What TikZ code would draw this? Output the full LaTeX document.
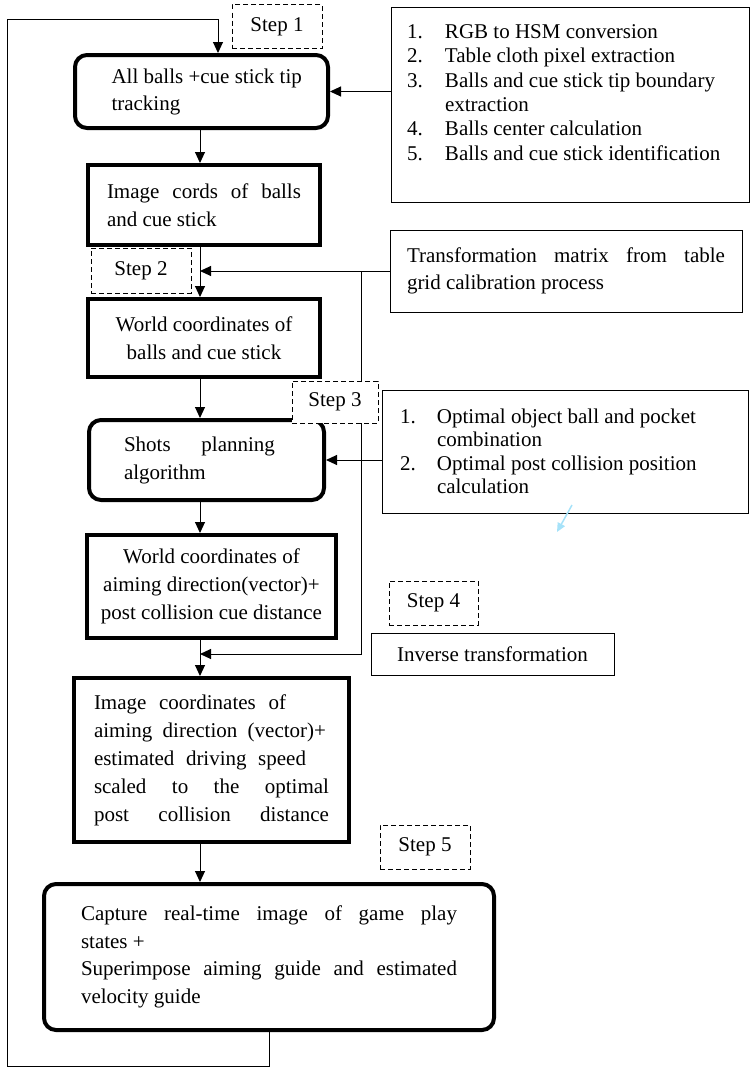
\documentclass[tikz,border=0pt]{standalone}
\usepackage{fontspec}
\setmainfont{Liberation Serif}
\usetikzlibrary{arrows.meta}

\newcommand{\jline}[2]{{\spaceskip=0pt\xspaceskip=0pt\makebox[#1][s]{#2}}}

\begin{document}
\begin{tikzpicture}[x=1pt,y=-1pt,>={Triangle[length=11pt,width=10pt]},line width=1pt]
 \useasboundingbox (0,0) rectangle (750,1068);
 \tikzstyle{every node} = [font=\fontsize{21}{28}\selectfont, inner sep=0pt]
 \tikzstyle{flowbox} = [draw, line width=4pt]
 \tikzstyle{roundbox} = [flowbox, rounded corners=12pt]
 \tikzstyle{notebox} = [draw, line width=1pt]
 \tikzstyle{stepbox} = [draw, line width=1pt, dash pattern=on 5pt off 3pt, fill=white,
   minimum width=90pt, minimum height=44pt]
 % main chain
 \node[roundbox, minimum width=253pt, minimum height=73pt, text width=180pt, align=flush left,
   font=\fontsize{21}{27}\selectfont] (track) at (201.5,91.5)
   {\makebox[180pt][l]{All balls +cue stick tip}\\tracking};
 \node[flowbox, minimum width=232pt, minimum height=80pt, text width=194pt, align=flush left]
   (cords) at (204,205) {\jline{194pt}{Image cords of balls}\\and cue stick};
 \node[flowbox, minimum width=232pt, minimum height=78pt, align=flush center]
   (world) at (204,338) {World coordinates of\\balls and cue stick};
 \node[roundbox, minimum width=235pt, minimum height=80pt, text width=165pt, align=flush left]
   (plan) at (206.5,460) {\jline{151pt}{Shots planning}\\algorithm};
 \node[flowbox, minimum width=249pt, minimum height=103pt, align=flush center]
   (aimw) at (211.5,586.5) {World coordinates of\\aiming direction(vector)+\\post collision cue distance};
 \node[flowbox, minimum width=275pt, minimum height=164pt, text width=235pt, align=flush left]
   (aimi) at (211.5,760) {\jline{192pt}{Image coordinates of}\\
   \jline{232pt}{aiming direction (vector)+}\\
   \jline{212pt}{estimated driving speed}\\
   \jline{235pt}{scaled to the optimal}\\
   \jline{235pt}{post collision distance}};
 \node[roundbox, minimum width=450pt, minimum height=146pt, text width=376pt, align=flush left,
   font=\fontsize{21}{27.5}\selectfont] (show) at (269,957)
   {\jline{376pt}{Capture real-time image of game play}\\states +\\
   \jline{376pt}{Superimpose aiming guide and estimated}\\velocity guide};
 % side notes
 \node[notebox, minimum width=358pt, minimum height=195pt, text width=326pt, align=flush left,
   font=\fontsize{21}{24.4}\selectfont] (prep) at (570,104.5)
   {\makebox[38pt][l]{1.}RGB to HSM conversion\\
   \makebox[38pt][l]{2.}Table cloth pixel extraction\\
   \makebox[38pt][l]{3.}Balls and cue stick tip boundary\\
   \hspace*{38pt}extraction\\
   \makebox[38pt][l]{4.}Balls center calculation\\
   \makebox[38pt][l]{5.}Balls and cue stick identification\\
   \mbox{}};
 \node[notebox, minimum width=352pt, minimum height=82pt, text width=318pt, align=flush left,
   font=\fontsize{21}{27}\selectfont] (calib) at (566,271)
   {\jline{318pt}{Transformation matrix from table}\\grid calibration process};
 \node[notebox, minimum width=366pt, minimum height=123pt, text width=330pt, align=flush left,
   font=\fontsize{21}{23.4}\selectfont] (choose) at (565,451.5)
   {\makebox[37pt][l]{1.}Optimal object ball and pocket\\
   \hspace*{37pt}combination\\
   \makebox[37pt][l]{2.}Optimal post collision position\\
   \hspace*{37pt}calculation};
 \node[notebox, minimum width=243pt, minimum height=42pt] (inverse) at (492.5,654) {Inverse transformation};

 \coordinate (spine) at (200,0);
 \coordinate (split) at (361,654);
 \coordinate (loopend) at (269,1066);
 \coordinate (loopcorner) at (7,19);
 \coordinate (feed) at (218,19);
 \coordinate (strayA) at (572,505);
 \coordinate (strayB) at (557,532);

 \draw [->] (show.south -| loopend) -- (loopend) -| (loopcorner) -- (feed) -- (feed |- track.north);
 \draw [->] (track.south -| spine) -- (cords.north -| spine);
 \draw [->] (cords.south -| spine) -- (world.north -| spine);
 \draw [->] (world.south -| spine) -- (plan.north -| spine);
 \draw [->] (plan.south -| spine) -- (aimw.north -| spine);
 \draw [->] (aimw.south -| spine) -- (aimi.north -| spine);
 \draw [->] (aimi.south -| spine) -- (show.north -| spine);
 \draw [->] (prep.west |- track.east) -- (track.east);
 \draw [->] (calib.west) -- (calib.west -| spine);
 \draw [->] (calib.west -| split) -- (split) -- (split -| spine);
 \draw [->] (choose.west |- plan.east) -- (plan.east);
 \draw [-{Triangle[length=9pt,width=8pt]}, cyan!35, line width=1.5pt] (strayA) -- (strayB);

 % step labels
 \node[stepbox] (step1) at (277,26.5) {Step 1};
 \node[stepbox, minimum width=100pt, minimum height=45pt] (step2) at (141,270.5) {Step 2};
 \node[stepbox, minimum width=86pt, minimum height=42pt] (step3) at (335,402) {Step 3};
 \node[stepbox, minimum width=89pt] (step4) at (433.5,603) {Step 4};
 \node[stepbox] (step5) at (425,847) {Step 5};
\end{tikzpicture}
\end{document}
